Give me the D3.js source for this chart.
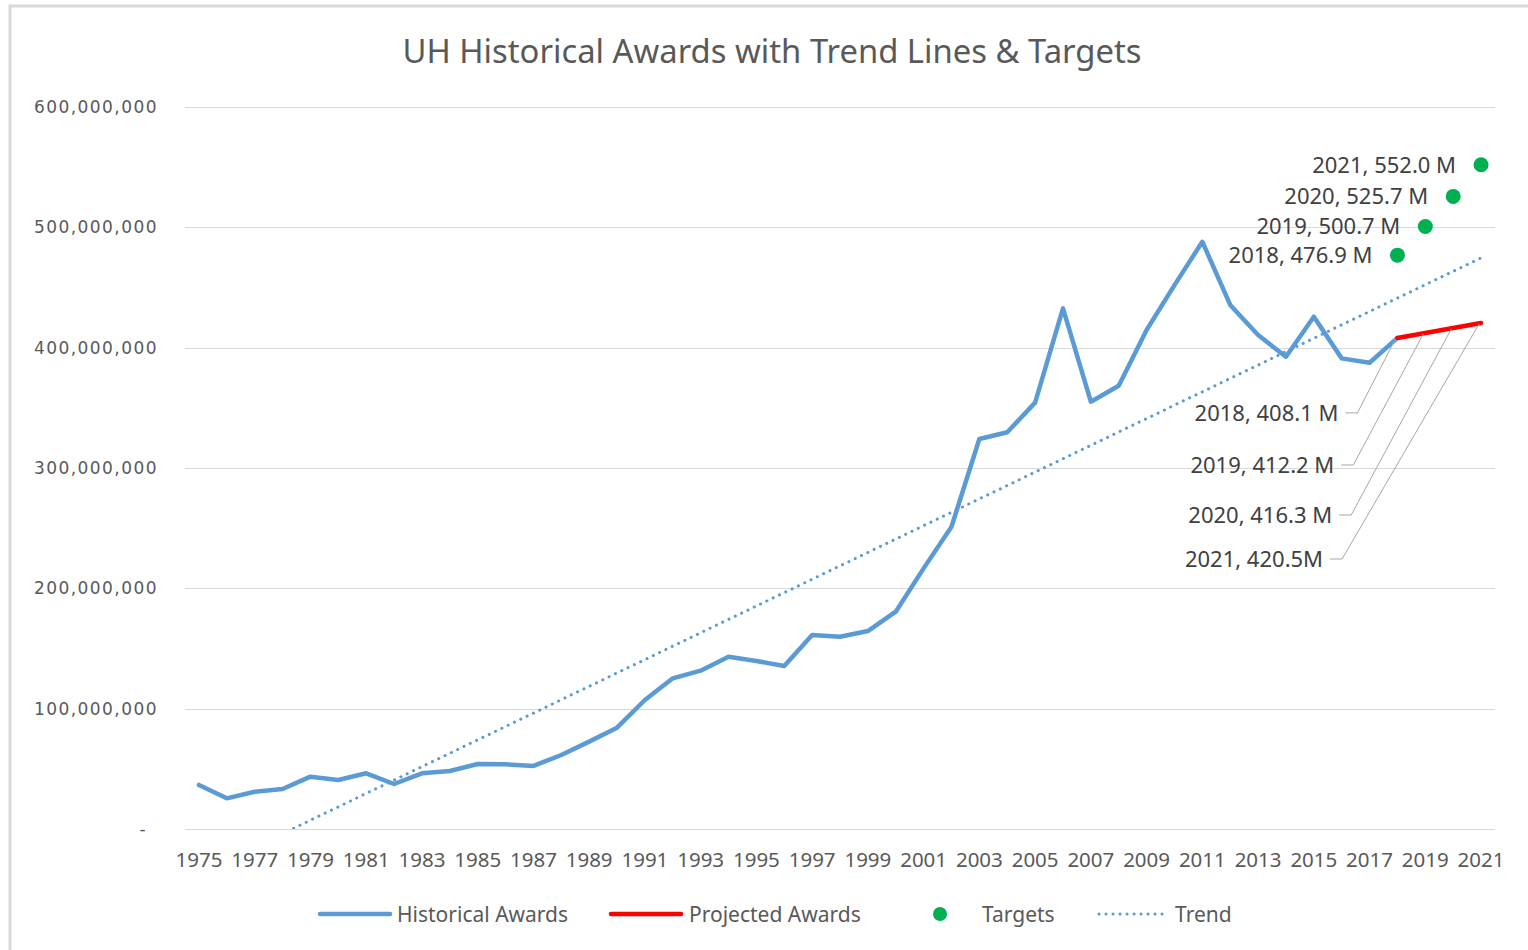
<!DOCTYPE html>
<html>
<head>
<meta charset="utf-8">
<script src="https://cdn.jsdelivr.net/npm/d3@7"></script>
<style>
  html, body { margin: 0; padding: 0; background: #fff; }
  svg { display: block; }
</style>
</head>
<body>
<svg id="chart" width="1528" height="950"></svg>
<script>
// ---------------- DATA ----------------
const years = d3.range(1975, 2022).map(String);
const histYears = d3.range(1975, 2019).map(String);
const histValues = [
  36.6, 25.5, 31.0, 33.2, 43.5, 40.7, 46.3, 37.4, 46.3, 48.2,
  54.0, 53.8, 52.4, 61.5, 72.6, 84.2, 107.2, 125.2, 131.6, 143.2,
  139.6, 135.5, 161.2, 159.8, 164.5, 180.6, 216.6, 251.2, 324.1, 329.7,
  354.3, 432.7, 355.1, 368.4, 414.7, 452.0, 488.0, 435.5, 410.5, 392.5,
  425.7, 391.1, 387.5, 408.1
].map(v => v * 1e6);
const projYears = ["2018", "2019", "2020", "2021"];
const projValues = [408.1, 412.2, 416.3, 420.5].map(v => v * 1e6);
const projLabels = ["2018, 408.1 M", "2019, 412.2 M", "2020, 416.3 M", "2021, 420.5M"];
const targetYears = ["2018", "2019", "2020", "2021"];
const targetValues = [476.9, 500.7, 525.7, 552.0].map(v => v * 1e6);
const targetLabels = ["2018, 476.9 M", "2019, 500.7 M", "2020, 525.7 M", "2021, 552.0 M"];
const trendYears = ["1975", "2021"];
const trendValues = [-37.2e6, 474.6e6];
const yTicks = [0, 100e6, 200e6, 300e6, 400e6, 500e6, 600e6];
const xTickYears = years.filter((d, i) => i % 2 === 0);
const title = "UH Historical Awards with Trend Lines & Targets";
const legendItems = ["Historical Awards", "Projected Awards", "Targets", "Trend"];

// ---------------- LAYOUT ----------------
const plot = { left: 185, right: 1495, top: 107, bottom: 829 };
const projLabelOffsets = [[-59, 75], [-91, 132], [-121, 187], [-158, 236]];
const C = {
  blue: "#5B9BD5", red: "#FF0000", green: "#00B050",
  grid: "#d9d9d9", text: "#595959", leader: "#a6a6a6"
};
const labelFont = "'Noto Sans', 'Open Sans', sans-serif";

const svg = d3.select("#chart");

// outer border
svg.append("path")
  .attr("d", "M10,950 L10,6 L1528,6")
  .attr("fill", "none").attr("stroke", "#d9d9d9").attr("stroke-width", 3);

const x = d3.scaleBand().domain(years).range([plot.left, plot.right]).padding(0);
const cx = d => x(d) + x.bandwidth() / 2;
const y = d3.scaleLinear().domain([0, 600e6]).range([plot.bottom, plot.top]);

// title
svg.append("text")
  .attr("x", 772).attr("y", 63)
  .attr("text-anchor", "middle")
  .attr("font-family", labelFont)
  .attr("font-size", 32.8)
  .attr("fill", C.text)
  .text(title);

// gridlines
svg.append("g")
  .selectAll("line").data(yTicks).join("line")
  .attr("x1", plot.left).attr("x2", plot.right)
  .attr("y1", d => Math.round(y(d)) + 0.5).attr("y2", d => Math.round(y(d)) + 0.5)
  .attr("stroke", C.grid).attr("stroke-width", 1);

// y axis labels
const fmt = d3.format(",");
const yAxis = d3.axisLeft(y).tickValues(yTicks).tickSize(0).tickPadding(0)
  .tickFormat(d => d === 0 ? "-" : fmt(d));
const yg = svg.append("g").attr("transform", `translate(${158},0)`).call(yAxis);
yg.select(".domain").remove();
yg.selectAll("text")
  .attr("font-family", "'DejaVu Sans', sans-serif")
  .attr("font-size", 17)
  .attr("letter-spacing", "1.45px")
  .attr("fill", C.text)
  .attr("dx", d => d === 0 ? -11 : 0);

// x axis labels
const xAxis = d3.axisBottom(x).tickValues(xTickYears).tickSize(0).tickPadding(0);
const xg = svg.append("g").attr("transform", `translate(0,${plot.bottom})`).call(xAxis);
xg.select(".domain").remove();
xg.selectAll("text")
  .attr("font-family", labelFont)
  .attr("font-size", 20.5)
  .attr("fill", C.text)
  .attr("dy", 0).attr("y", 38);

// clip for trend
svg.append("clipPath").attr("id", "plotclip")
  .append("rect").attr("x", plot.left).attr("y", plot.top)
  .attr("width", plot.right - plot.left).attr("height", plot.bottom - plot.top);

// trend
const trendLine = d3.line().x((d, i) => cx(trendYears[i])).y(d => y(d));
svg.append("path")
  .attr("clip-path", "url(#plotclip)")
  .attr("d", trendLine(trendValues))
  .attr("fill", "none").attr("stroke", C.blue).attr("stroke-width", 3)
  .attr("stroke-linecap", "round").attr("stroke-dasharray", "0.1 6.9");

// historical
const histLine = d3.line().x((d, i) => cx(histYears[i])).y(d => y(d));
svg.append("path")
  .attr("d", histLine(histValues))
  .attr("fill", "none").attr("stroke", C.blue).attr("stroke-width", 4.5)
  .attr("stroke-linejoin", "round").attr("stroke-linecap", "round");

// projected
const projLine = d3.line().x((d, i) => cx(projYears[i])).y(d => y(d));
svg.append("path")
  .attr("d", projLine(projValues))
  .attr("fill", "none").attr("stroke", C.red).attr("stroke-width", 4.5)
  .attr("stroke-linejoin", "round").attr("stroke-linecap", "round");

// projected leader lines + labels
const pg = svg.append("g");
projValues.forEach((v, i) => {
  const px = cx(projYears[i]), py = y(v);
  const [dx, dy] = projLabelOffsets[i];
  const lx = px + dx, ly = py + dy;
  pg.append("polyline")
    .attr("points", `${lx + 7},${ly} ${lx + 19},${ly} ${px - 2},${py + 1}`)
    .attr("fill", "none").attr("stroke", C.leader).attr("stroke-width", 1);
  pg.append("text")
    .attr("x", lx).attr("y", ly).attr("dy", "0.36em")
    .attr("text-anchor", "end")
    .attr("font-family", labelFont).attr("font-size", 22)
    .attr("fill", "#404040")
    .text(projLabels[i]);
});

// targets
const tg = svg.append("g");
tg.selectAll("circle").data(targetValues).join("circle")
  .attr("cx", (d, i) => cx(targetYears[i])).attr("cy", d => y(d))
  .attr("r", 7.5).attr("fill", C.green);
tg.selectAll("text").data(targetValues).join("text")
  .attr("x", (d, i) => cx(targetYears[i]) - 25).attr("y", d => y(d)).attr("dy", "0.36em")
  .attr("text-anchor", "end")
  .attr("font-family", labelFont).attr("font-size", 22)
  .attr("fill", "#404040")
  .text((d, i) => targetLabels[i]);

// legend
const lg = svg.append("g").attr("font-family", labelFont).attr("font-size", 21).attr("fill", C.text);
const ly0 = 914;
lg.append("line").attr("x1", 320).attr("x2", 390).attr("y1", ly0).attr("y2", ly0)
  .attr("stroke", C.blue).attr("stroke-width", 4.5).attr("stroke-linecap", "round");
lg.append("text").attr("x", 397).attr("y", ly0).attr("dy", "0.36em").text(legendItems[0]);
lg.append("line").attr("x1", 611).attr("x2", 681).attr("y1", ly0).attr("y2", ly0)
  .attr("stroke", C.red).attr("stroke-width", 4.5).attr("stroke-linecap", "round");
lg.append("text").attr("x", 689).attr("y", ly0).attr("dy", "0.36em").text(legendItems[1]);
lg.append("circle").attr("cx", 940).attr("cy", ly0).attr("r", 7).attr("fill", C.green);
lg.append("text").attr("x", 982).attr("y", ly0).attr("dy", "0.36em").text(legendItems[2]);
lg.append("line").attr("x1", 1099).attr("x2", 1163).attr("y1", ly0).attr("y2", ly0)
  .attr("stroke", C.blue).attr("stroke-width", 3)
  .attr("stroke-linecap", "round").attr("stroke-dasharray", "0.1 6.9");
lg.append("text").attr("x", 1175).attr("y", ly0).attr("dy", "0.36em").text(legendItems[3]);
</script>
</body>
</html>
